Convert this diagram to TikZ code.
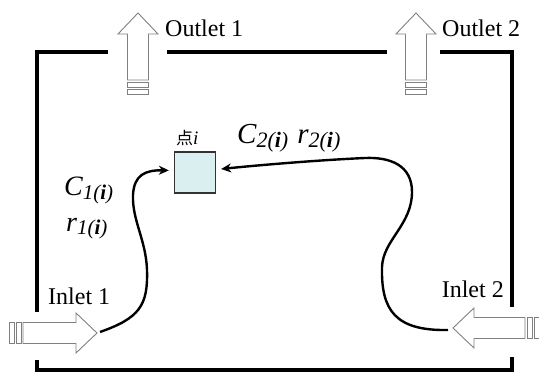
\documentclass[tikz,border=0pt]{standalone}
\usepackage{fontspec}
\setmainfont{Liberation Serif}
\newfontfamily\cjk{Noto Sans CJK JP}
\usetikzlibrary{arrows.meta}
\definecolor{ptfill}{RGB}{218,240,240}
\definecolor{hollow}{RGB}{128,128,128}

\begin{document}
\begin{tikzpicture}[x=1pt,y=-1pt,
	wall/.style={line width=4pt},
	flow/.style={line width=2.4pt,-{Stealth[length=10pt,width=9pt]}},
	lbl/.style={font=\fontsize{24}{26}\selectfont,inner sep=0pt},
	sym/.style={inner sep=0pt,anchor=base west}]
	\useasboundingbox (0,0) rectangle (539,374);
	% walls
	\draw[wall] (108,52) -- (37,52) -- (37,312);
	\draw[wall] (167,52) -- (387,52);
	\draw[wall] (440,52) -- (512,52) -- (512,307);
	\draw[wall] (37,360) -- (37,370) -- (512,370) -- (512,357);
	% hollow arrows
	\foreach \px/\py/\ang/\len in {97/333/0/74, 453/328/180/72, 138/13/90/67, 416/13/90/67}{
		\begin{scope}[shift={(\px,\py)},rotate=\ang,draw=hollow,line width=0.9pt]
			\draw[fill=white] (0,0) -- (-21,-20) -- (-21,-10.5) -- (-\len,-10.5)
				-- (-\len,10.5) -- (-21,10.5) -- (-21,20) -- cycle;
			\draw (-\len-2,-10.5) rectangle (-\len-7,10.5);
			\draw (-\len-9,-10.5) rectangle (-\len-14,10.5);
		\end{scope}
	}
	\node[lbl,anchor=base west] (out1) at (165,37) {Outlet 1};
	\node[lbl,anchor=base west] (out2) at (442,37) {Outlet 2};
	\node[lbl,anchor=base west] (inl1) at (48,305) {Inlet 1};
	\node[lbl,anchor=base east] (inl2) at (504,298) {Inlet 2};
	% point i
	\node[draw=black!80,line width=1.3pt,fill=ptfill,minimum size=41pt,inner sep=0pt] (pt) at (195,172.5) {};
	\node[sym] (ptlbl) at (176,145) {{\cjk\fontsize{17}{17}\selectfont 点}{\fontsize{19}{19}\selectfont\itshape i}};
	\node[sym,font=\fontsize{28}{30}\selectfont\itshape] (c1) at (64,196)
		{C\raisebox{-4pt}{\fontsize{21}{21}\selectfont 1(\textbf{i})}};
	\node[sym,font=\fontsize{28}{30}\selectfont\itshape] (r1) at (66,232)
		{r\raisebox{-3pt}{\fontsize{21}{21}\selectfont 1(\textbf{i})}};
	\node[sym,font=\fontsize{29}{30}\selectfont\itshape] (c2) at (237,144)
		{C\raisebox{-4pt}{\fontsize{22}{22}\selectfont 2(\textbf{i})}\hspace{9pt}r\raisebox{-4pt}{\fontsize{22}{22}\selectfont 2(\textbf{i})}};
	% flow paths
	\coordinate (in1) at (100,332);
	\coordinate (in2) at (448,330);
	\draw[flow,shorten >=5pt] (in1) .. controls (140,318) and (148,305) .. (147,270)
		.. controls (146,240) and (132,220) .. (133,195)
		.. controls (134,175) and (145,170) .. ([yshift=2pt]pt.west);
	\draw[flow,shorten >=5pt] (in2) .. controls (395,331) and (381,310) .. (382,267)
		.. controls (383,240) and (412,225) .. (412,192)
		.. controls (412,165) and (390,157) .. (365,158)
		.. controls (320,160) and (260,165) .. ([yshift=3pt]pt.east);
\end{tikzpicture}
\end{document}
